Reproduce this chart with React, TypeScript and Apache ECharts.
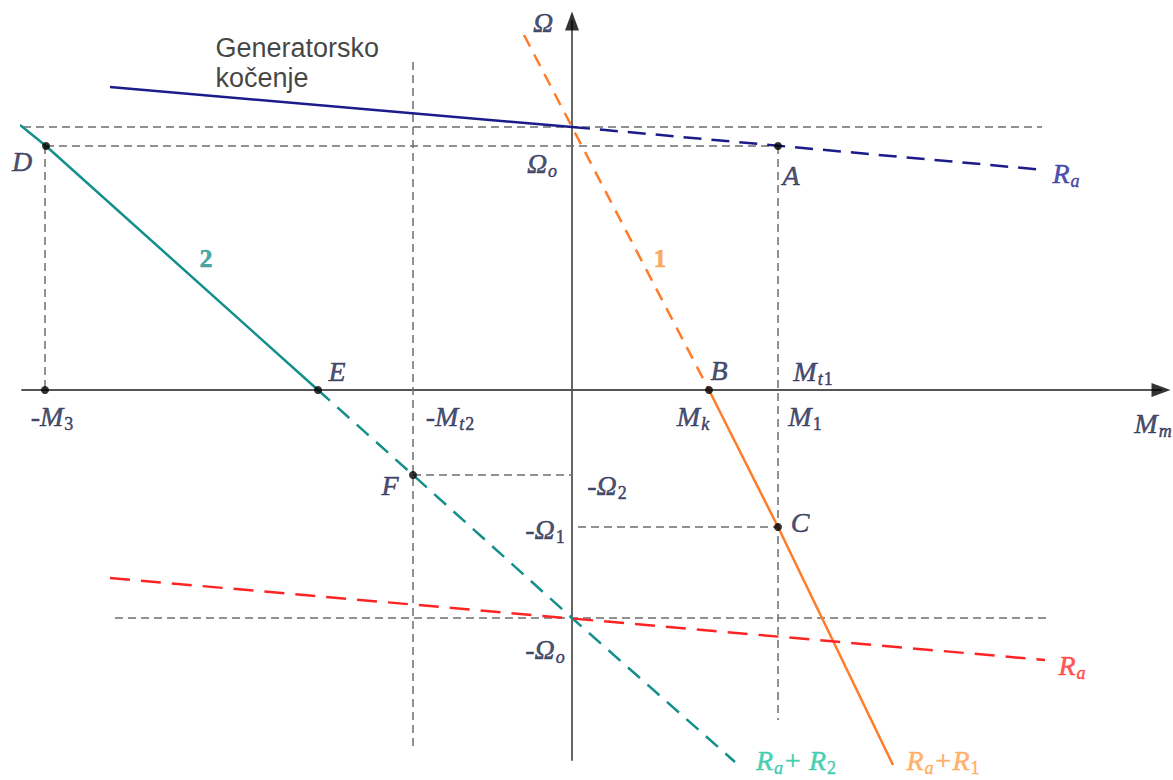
import React, { useEffect, useRef } from "react";
import * as echarts from "echarts";

// Torque (x) / speed (y) diagram, arbitrary units, origin at axis crossing
const blueSolid = [[-462, 303], [0, 263]];
const blueDashed = [[0, 263], [473, 220]];
const orangeDashed = [[-48, 355], [0, 263], [137, 0]];
const orangeSolid = [[137, 0], [206, -137], [321, -375]];
const tealSolid = [[-552, 265], [-526, 244], [-254, 0]];
const tealDashed = [[-254, 0], [-159, -85], [0, -228], [163, -372]];
const redDashed = [[-462, -188], [473, -270]];

const guideLines = [
  [[-562, 263], [470, 263]],
  [[-526, 244], [206, 244]],
  [[-527, 244], [-527, 0]],
  [[206, 244], [206, -330]],
  [[6, -137], [206, -137]],
  [[-159, 328], [-159, -360]],
  [[-159, -85], [0, -85]],
  [[-457, -228], [476, -228]],
];

const points = [[-526, 244], [206, 244], [-527, 0], [-254, 0], [-159, -85], [137, 0], [206, -137]];

const axisEnds = { x: 589, y: 369 };

const TXT = "#18214a";
const annotations = [
  { t: "{m|Ω}", x: -29, y: 368, c: TXT },
  { t: "{m|Ω}{si|o}", x: -30, y: 227, c: TXT },
  { t: "{m|A}", x: 219, y: 215, c: TXT },
  { t: "{m|R}{si|a}", x: 494, y: 217, c: "#24249a" },
  { t: "{m|D}", x: -550, y: 229, c: TXT },
  { t: "{b|1}", x: 88, y: 132, c: "#f7963a" },
  { t: "{b|2}", x: -366, y: 132, c: "#17908c" },
  { t: "{m|E}", x: -235, y: 19, c: TXT },
  { t: "{m|B}", x: 147, y: 20, c: TXT },
  { t: "{m|M}{si|t}{sn|1}", x: 241, y: 19, c: TXT },
  { t: "{m|-M}{sn|3}", x: -520, y: -26, c: TXT },
  { t: "{m|-M}{si|t}{sn|2}", x: -122, y: -26, c: TXT },
  { t: "{m|M}{si|k}", x: 121, y: -26, c: TXT },
  { t: "{m|M}{sn|1}", x: 233, y: -26, c: TXT },
  { t: "{m|M}{si|m}", x: 581, y: -33, c: TXT },
  { t: "{m|F}", x: -182, y: -95, c: TXT },
  { t: "{m|-Ω}{sn|2}", x: 35, y: -95, c: TXT },
  { t: "{m|-Ω}{sn|1}", x: -27, y: -139, c: TXT },
  { t: "{m|C}", x: 228, y: -132, c: TXT },
  { t: "{m|-Ω}{si|o}", x: -27, y: -259, c: TXT },
  { t: "{m|R}{si|a}", x: 500, y: -275, c: "#ff2a2a" },
  { t: "{m|R}{si|a}{m|+ R}{sn|2}", x: 224, y: -370, c: "#1fc4a2" },
  { t: "{m|R}{si|a}{m|+R}{sn|1}", x: 371, y: -370, c: "#ffa048" },
];

const noteLines = ["Generatorsko", "kočenje"];

export default function App() {
  const ref = useRef<HTMLDivElement>(null);
  useEffect(() => {
    const chart = echarts.init(ref.current!, undefined, { renderer: "svg" });
    const line = (data: number[][], color: string, dashed: boolean, width = 2.5, dash: number[] = [14, 9]) => ({
      type: "line",
      data,
      symbol: "none",
      silent: true,
      clip: false,
      lineStyle: { color, width, type: dashed ? dash : "solid" },
      z: 3,
    });
    const serif = "'Liberation Serif', 'DejaVu Serif', serif";
    const series: any[] = [];
    guideLines.forEach((g) => series.push({ ...line(g, "#6e6e6e", true, 1.5, [8, 5]), z: 2 }));
    series.push(line(blueSolid, "#1b1b8a", false));
    series.push(line(blueDashed, "#1b1b8a", true, 2.5, [18, 10]));
    series.push(line(orangeDashed, "#ff7d2a", true, 2.5, [13, 9]));
    series.push(line(orangeSolid, "#ff7d2a", false));
    series.push(line(tealSolid, "#138f8c", false));
    series.push(line(tealDashed, "#138f8c", true, 2.5, [16, 10]));
    series.push(line(redDashed, "#ff2424", true, 2.5, [20, 11]));
    series.push({
      type: "scatter",
      data: points,
      symbolSize: 8,
      itemStyle: { color: "#000" },
      silent: true,
      clip: false,
      z: 5,
    });
    // arrow heads of the axes
    series.push({
      type: "scatter",
      clip: false,
      silent: true,
      symbol: "triangle",
      symbolSize: [14, 19],
      itemStyle: { color: "#000" },
      z: 5,
      data: [
        { value: [axisEnds.x, 0], symbolRotate: -90 },
        { value: [0, axisEnds.y], symbolRotate: 0 },
      ],
    });
    series.push({
      type: "scatter",
      symbolSize: 1,
      itemStyle: { color: "rgba(0,0,0,0)" },
      silent: true,
      clip: false,
      z: 6,
      data: annotations.map((a) => ({
        value: [a.x, a.y],
        label: {
          show: true,
          position: "inside",
          formatter: a.t,
          color: a.c,
          textBorderColor: a.c,
          textBorderWidth: 0.5,
        },
      })),
      label: {
        show: true,
        rich: {
          m: { fontFamily: serif, fontStyle: "italic", fontSize: 28 },
          si: { fontFamily: serif, fontStyle: "italic", fontSize: 18, padding: [15, 0, 0, 1] },
          sn: { fontFamily: serif, fontSize: 18, padding: [15, 0, 0, 1] },
          b: { fontFamily: serif, fontWeight: "bold", fontSize: 26 },
        },
      },
    });
    series.push({
      type: "scatter",
      symbolSize: 1,
      itemStyle: { color: "rgba(0,0,0,0)" },
      silent: true,
      clip: false,
      data: [[-357, 327]],
      label: {
        show: true,
        position: "right",
        distance: 0,
        formatter: noteLines.join("\n"),
        fontFamily: "'Liberation Sans', Arial, sans-serif",
        fontSize: 27,
        lineHeight: 30,
        color: "#111",
      },
    });
    const axisCommon = {
      type: "value",
      splitLine: { show: false },
      axisTick: { show: false },
      axisLabel: { show: false },
      axisLine: { onZero: true, lineStyle: { color: "#555", width: 1.8 } },
    };
    chart.setOption({
      animation: false,
      backgroundColor: "#fff",
      grid: { left: 22, right: 12, top: 21, bottom: 20 },
      xAxis: { ...axisCommon, min: -550, max: axisEnds.x },
      yAxis: { ...axisCommon, min: -370, max: axisEnds.y },
      series,
    });
    return () => chart.dispose();
  }, []);
  return <div ref={ref} style={{ position: "absolute", left: 0, top: 0, width: 1173, height: 780 }} />;
}
